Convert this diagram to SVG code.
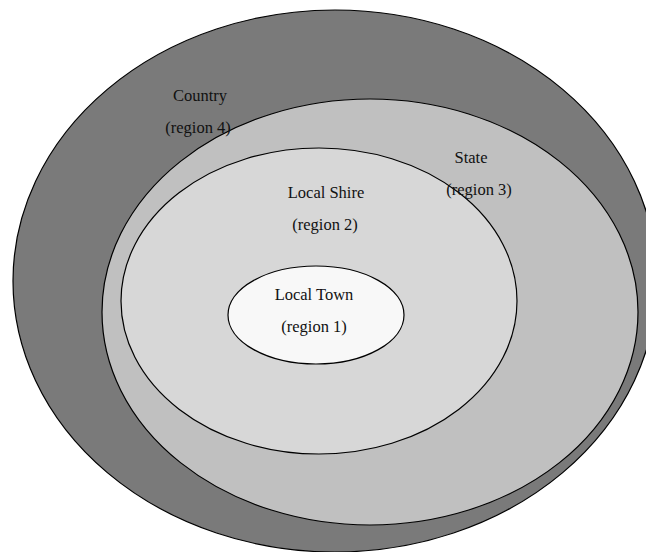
<svg xmlns="http://www.w3.org/2000/svg" width="646" height="552" viewBox="0 0 646 552">
<style>
.r{stroke:#000;stroke-width:1.2}
.t{font-family:"Liberation Serif","Times New Roman",serif;font-size:16.5px;fill:#111;text-anchor:middle}
</style>
<rect width="646" height="552" fill="#fff"/>
<g id="region4">
<ellipse class="r" cx="335" cy="281" rx="322" ry="271" fill="#7a7a7a"/>
</g>
<g id="region3">
<ellipse class="r" cx="370" cy="312" rx="268" ry="213" fill="#c0c0c0"/>
</g>
<g id="region2">
<ellipse class="r" cx="319" cy="301" rx="198" ry="153" fill="#d7d7d7"/>
</g>
<g id="region1">
<ellipse class="r" cx="316" cy="315" rx="88" ry="49" fill="#f8f8f8"/>
</g>
<g id="labels">
<text class="t" x="200" y="101">Country</text>
<text class="t" x="198" y="133">(region 4)</text>
<text class="t" x="471" y="163">State</text>
<text class="t" x="479" y="195">(region 3)</text>
<text class="t" x="326" y="198">Local Shire</text>
<text class="t" x="325" y="230">(region 2)</text>
<text class="t" x="314" y="300">Local Town</text>
<text class="t" x="314" y="332">(region 1)</text>
</g>
<g id="connectors"></g>
</svg>
